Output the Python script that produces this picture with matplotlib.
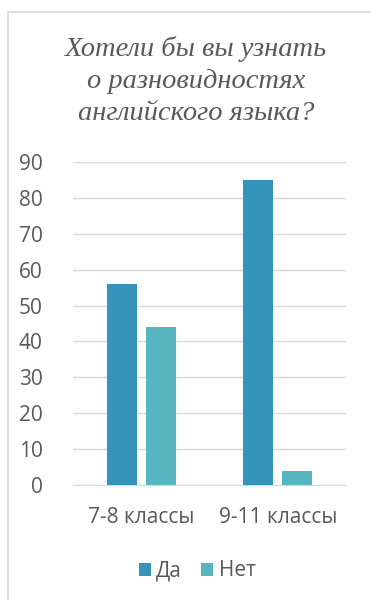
import matplotlib.pyplot as plt
import numpy as np
from matplotlib.patches import Rectangle

categories = ["7-8 классы", "9-11 классы"]
series_names = ["Да", "Нет"]
da = [56, 85]
net = [44, 4]
yticks = [0, 10, 20, 30, 40, 50, 60, 70, 80, 90]

col_da = "#3494BA"
col_net = "#58B6C0"
txt = "#595959"

fig = plt.figure(figsize=(3.71, 6.0), dpi=100)
W, H = 371, 600

# chart border (light gray frame, extends past the picture right/bottom)
fig.patches.append(Rectangle((8 / W, -0.1), 1.2, (600 - 12) / H + 0.1,
                             transform=fig.transFigure, fill=False,
                             edgecolor="#D9D9D9", linewidth=1.2))

fig.text(196 / W, 1 - 81 / H,
         "Хотели бы вы узнать\nо разновидностях\nанглийского языка?",
         ha="center", va="center", fontsize=20.5, style="italic",
         family="Liberation Serif", color=txt, linespacing=1.38)

ax = fig.add_axes([73 / W, 1 - 485 / H, (346 - 73) / W, (485 - 162) / H])
x = np.arange(len(categories))
w = 0.22
ax.bar(x - 0.144, da, width=w, color=col_da, label=series_names[0], zorder=3)
ax.bar(x + 0.144, net, width=w, color=col_net, label=series_names[1], zorder=3)

ax.set_xlim(-0.5, 1.5)
ax.set_ylim(0, 90)
ax.set_yticks(yticks)
ax.yaxis.grid(True, color="#D9D9D9", linewidth=1, zorder=0)
for s in ax.spines.values():
    s.set_visible(False)
ax.spines["bottom"].set_visible(True)
ax.spines["bottom"].set_color("#D9D9D9")
ax.tick_params(length=0, labelsize=15, colors=txt)
ax.tick_params(axis="y", pad=22)
ax.tick_params(axis="x", pad=16)
ax.set_xticks(x)
ax.set_xticklabels(categories)
for lab in ax.get_xticklabels() + ax.get_yticklabels():
    lab.set_family("Open Sans")

leg = fig.legend(loc="center", bbox_to_anchor=(197 / W, 1 - 571 / H),
                 ncol=2, frameon=False, handlelength=0.6, handleheight=0.6,
                 handletextpad=0.25, columnspacing=0.9,
                 prop={"family": "Open Sans", "size": 15})
for t in leg.get_texts():
    t.set_color(txt)

fig.savefig("out.png", dpi=100)
